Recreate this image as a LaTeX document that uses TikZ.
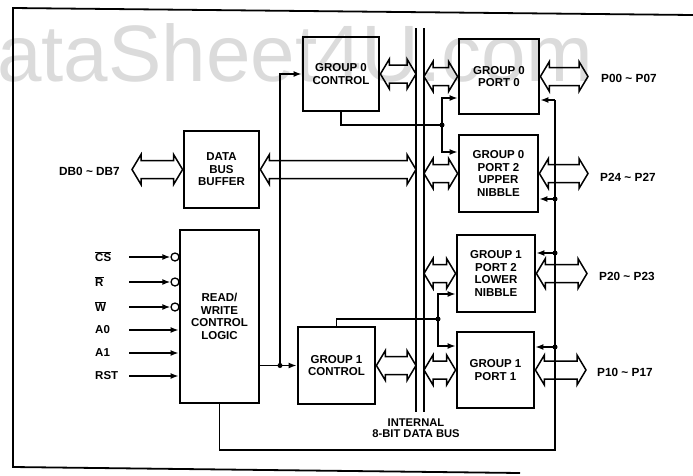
\documentclass[tikz,border=0pt]{standalone}
\usepackage{fontspec}
\setmainfont{Liberation Sans}
\usetikzlibrary{arrows.meta,calc}

\newcommand{\ovl}[1]{$\overline{\mbox{#1}}$}

\tikzset{
  blk/.style={draw, line width=2.8pt, align=center, inner sep=0pt,
    font=\fontsize{11.5}{12.5}\selectfont\bfseries},
  btxt/.style={align=center, inner sep=0pt,
    font=\fontsize{11.2}{11.5}\selectfont\bfseries},
  pin/.style={anchor=west, text width=32pt, inner sep=2pt,
    font=\fontsize{11.5}{12.5}\selectfont\bfseries},
  plbl/.style={anchor=west, inner sep=0pt,
    font=\fontsize{11.8}{12.5}\selectfont\bfseries},
  wire/.style={line width=1.5pt},
  sig/.style={line width=1.5pt, -{Latex[length=8pt,width=6pt]}},
  dot/.style={circle, fill, inner sep=0pt, minimum size=5pt},
  bub/.style={circle, draw, line width=1.3pt, fill=white, inner sep=0pt, minimum size=8pt},
  busarrow/.style={draw, line width=1.5pt, line join=miter, to path={
    let \p1=(\tikztostart), \p2=(\tikztotarget) in
    (\x1,\y1) -- (\x1+9pt,\y1+15pt) -- (\x1+9pt,\y1+9pt) -- (\x2-9pt,\y1+9pt)
    -- (\x2-9pt,\y1+15pt) -- (\x2,\y1) -- (\x2-9pt,\y1-15pt) -- (\x2-9pt,\y1-9pt)
    -- (\x1+9pt,\y1-9pt) -- (\x1+9pt,\y1-15pt) -- cycle}}
}

\begin{document}
\begin{tikzpicture}[x=1pt, y=-1pt]
  \useasboundingbox (0,0) rectangle (693,475);

  % -- watermark --
  \node[anchor=base west, inner sep=0pt, text=black!14,
    font=\fontsize{80}{80}\selectfont] (wm) at (-3,81) {ataSheet4U.com};

  % -- frame --
  \draw[line width=1.8pt] (693,15) -- (13,8) -- (13,467) -- (520,473);

  % -- blocks --
  \node[blk, minimum width=75pt, minimum height=77pt] (dbb) at (221.5,169.5) {DATA\\BUS\\BUFFER};
  \node[blk, minimum width=79pt, minimum height=173pt] (rwl) at (219.5,316.5) {READ/\\WRITE\\CONTROL\\LOGIC};
  \node[blk, minimum width=76pt, minimum height=74pt] (gc0) at (341,74) {GROUP 0\\CONTROL};
  \node[blk, minimum width=77pt, minimum height=77pt] (gc1) at (336.5,365.5) {GROUP 1\\CONTROL};
  \node[blk, minimum width=80pt, minimum height=75pt] (gp0) at (499,76.5) {GROUP 0\\PORT 0};
  \node[blk, minimum width=79pt, minimum height=77pt] (gp2u) at (498.5,173.5) {GROUP 0\\PORT 2\\UPPER\\NIBBLE};
  \node[blk, minimum width=78pt, minimum height=77pt] (gp2l) at (496,273.5) {GROUP 1\\PORT 2\\LOWER\\NIBBLE};
  \node[blk, minimum width=77pt, minimum height=76pt] (gp1) at (495.5,370) {GROUP 1\\PORT 1};

  % -- internal bus --
  \coordinate (busLt) at (416,28);
  \coordinate (busLb) at (416,412);
  \coordinate (busRt) at (424,28);
  \coordinate (busRb) at (424,412);
  \draw[wire] (busLt) -- (busLb);
  \draw[wire] (busRt) -- (busRb);
  \node[btxt] (buslbl) at (416,428) {INTERNAL\\8-BIT DATA BUS};

  % -- data paths --
  \node[plbl, anchor=east] (ldb) at (120,171) {DB0 \textasciitilde{} DB7};
  \coordinate (dbin) at (132,169.5);
  \draw[busarrow] (dbin) to (dbb.west);
  \draw[busarrow] (dbb.east) to (dbb.east -| busLt);
  \draw[busarrow] (gc0.east) to (gc0.east -| busLt);
  \draw[busarrow] (gc1.east) to (gc1.east -| busLt);
  \draw[busarrow] (gp0.west -| busRt) to (gp0.west);
  \draw[busarrow] (gp2u.west -| busRt) to (gp2u.west);
  \draw[busarrow] (gp2l.west -| busRt) to (gp2l.west);
  \draw[busarrow] (gp1.west -| busRt) to (gp1.west);

  % -- port pins --
  \node[plbl] (lp0) at (601,78) {P00 \textasciitilde{} P07};
  \node[plbl] (lp2u) at (600,177) {P24 \textasciitilde{} P27};
  \node[plbl] (lp2l) at (599,276) {P20 \textasciitilde{} P23};
  \node[plbl] (lp1) at (597,372) {P10 \textasciitilde{} P17};
  \coordinate (p0) at (588,76.5);
  \coordinate (p2u) at (588,175);
  \coordinate (p2l) at (587,274);
  \coordinate (p1) at (586,369);
  \draw[busarrow] (gp0.east) to (p0);
  \draw[busarrow] (gp2u.east) to (p2u);
  \draw[busarrow] (gp2l.east) to (p2l);
  \draw[busarrow] (gp1.east) to (p1);

  % -- control inputs --
  \node[pin] (lcs) at (93,257) {\ovl{CS}};
  \node[pin] (lr) at (93,282) {\ovl{R}};
  \node[pin] (lw) at (93,307) {\ovl{W}};
  \node[pin] (la0) at (93,330) {A0};
  \node[pin] (la1) at (93,353) {A1};
  \node[pin] (lrst) at (93,376) {RST};
  \node[bub] (bcs) at (175,257) {};
  \node[bub] (br) at (175,282) {};
  \node[bub] (bw) at (175,307) {};
  \draw[sig] (lcs.east) -- (bcs.west);
  \draw[sig] (lr.east) -- (br.west);
  \draw[sig] (lw.east) -- (bw.west);
  \draw[sig] (la0.east) -- (la0.east -| rwl.west);
  \draw[sig] (la1.east) -- (la1.east -| rwl.west);
  \draw[sig] (lrst.east) -- (lrst.east -| rwl.west);

  % -- group control lines --
  \coordinate (jrw) at (280,365.5);
  \draw[sig] (rwl.east |- gc1.west) -- (gc1.west);
  \draw[sig] (jrw) |- (gc0.west);
  \node[dot] at (jrw) {};

  \coordinate (j0) at (442,125);
  \coordinate (a0) at (0,98);
  \coordinate (a2u) at (0,152);
  \draw[wire] (gc0.south) |- (j0);
  \draw[sig] (j0) |- (a0 -| gp0.west);
  \draw[sig] (j0) |- (a2u -| gp2u.west);
  \node[dot] at (j0) {};

  \coordinate (j1) at (438,319);
  \coordinate (a2l) at (0,294);
  \coordinate (a1) at (0,346);
  \draw[wire] (gc1.north) |- (j1);
  \draw[sig] (j1) |- (a2l -| gp2l.west);
  \draw[sig] (j1) |- (a1 -| gp1.west);
  \node[dot] at (j1) {};

  % -- return line from read/write logic --
  \coordinate (jb) at (555,450);
  \coordinate (r0) at (555,100);
  \coordinate (r2u) at (555,199);
  \coordinate (r2l) at (555,253);
  \coordinate (r1) at (555,347);
  \draw[wire] (rwl.south) |- (jb) -- (r0);
  \draw[sig] (r0) -- (r0 -| gp0.east);
  \draw[sig] (r2u) -- (r2u -| gp2u.east);
  \draw[sig] (r2l) -- (r2l -| gp2l.east);
  \draw[sig] (r1) -- (r1 -| gp1.east);
  \node[dot] at (r2u) {};
  \node[dot] at (r2l) {};
  \node[dot] at (r1) {};

\end{tikzpicture}
\end{document}
